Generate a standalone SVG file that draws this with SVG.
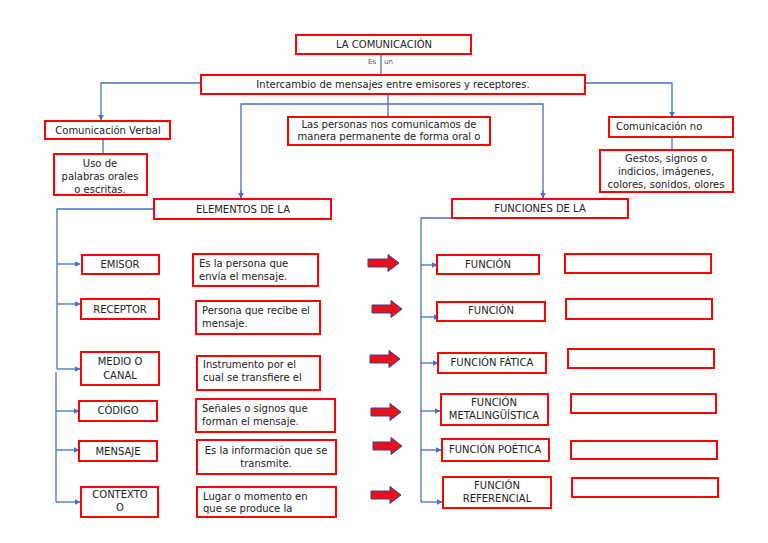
<svg xmlns="http://www.w3.org/2000/svg" width="768" height="543" viewBox="0 0 768 543">
<defs>
<marker id="ah" viewBox="0 0 10 10" refX="9" refY="5" markerWidth="6" markerHeight="6" markerUnits="userSpaceOnUse" orient="auto">
<path d="M0,0 L10,5 L0,10 z" fill="#4472c4"/>
</marker>
<style>
.b{fill:#fff;stroke:#ff0000;stroke-width:2}
.t{font-family:"DejaVu Sans",Verdana,sans-serif;font-size:10px;fill:#222}
.c{text-anchor:middle}
.s{font-family:"DejaVu Sans",sans-serif;font-size:7px;fill:#555}
.l{fill:none;stroke:#4472c4;stroke-width:1.3}
.ra{fill:#e8121a;stroke:#3a3f8a;stroke-width:1}
</style>
</defs>
<rect width="768" height="543" fill="#fff"/>

<g id="connectors">
<line class="l" x1="381" y1="55" x2="381" y2="74"/>
<polyline class="l" points="201,83 101,83 101,120" marker-end="url(#ah)"/>
<polyline class="l" points="585,83 672,83 672,117" marker-end="url(#ah)"/>
<line class="l" x1="103" y1="139" x2="103" y2="154"/>
<line class="l" x1="672" y1="137" x2="672" y2="150"/>
<line class="l" x1="388" y1="94" x2="388" y2="117"/>
<polyline class="l" points="241,198 241,104 543,104 543,198"/>
<line class="l" x1="241" y1="190" x2="241" y2="198" marker-end="url(#ah)"/>
<line class="l" x1="543" y1="190" x2="543" y2="198" marker-end="url(#ah)"/>
<polyline class="l" points="154,209 57,209 57,369"/>
<line class="l" x1="56" y1="372" x2="56" y2="502"/>
<line class="l" x1="57" y1="264" x2="80" y2="264" marker-end="url(#ah)"/>
<line class="l" x1="57" y1="304" x2="80" y2="304" marker-end="url(#ah)"/>
<line class="l" x1="57" y1="369" x2="80" y2="369" marker-end="url(#ah)"/>
<line class="l" x1="56" y1="411" x2="79" y2="411" marker-end="url(#ah)"/>
<line class="l" x1="56" y1="450" x2="79" y2="450" marker-end="url(#ah)"/>
<line class="l" x1="56" y1="502" x2="80" y2="502" marker-end="url(#ah)"/>
<polyline class="l" points="527,218 421,218 421,502"/>
<line class="l" x1="421" y1="265" x2="437" y2="265" marker-end="url(#ah)"/>
<line class="l" x1="421" y1="317" x2="439" y2="317" marker-end="url(#ah)"/>
<line class="l" x1="421" y1="363" x2="438" y2="363" marker-end="url(#ah)"/>
<line class="l" x1="421" y1="411" x2="440" y2="411" marker-end="url(#ah)"/>
<line class="l" x1="421" y1="450" x2="441" y2="450" marker-end="url(#ah)"/>
<line class="l" x1="421" y1="502" x2="442" y2="502" marker-end="url(#ah)"/>
</g>

<g id="labels">
<text class="s" x="368" y="64">Es</text>
<text class="s" x="384" y="64">un</text>
</g>

<g id="n-comunicacion"><rect class="b" x="296" y="35" width="175" height="19"/><text class="t c" x="384" y="48">LA COMUNICACIÓN</text></g>
<g id="n-intercambio"><rect class="b" x="201" y="75" width="384" height="19"/><text class="t c" x="393" y="88">Intercambio de mensajes entre emisores y receptores.</text></g>
<g id="n-verbal"><rect class="b" x="45" y="121" width="125" height="18"/><text class="t c" x="108" y="134">Comunicación Verbal</text></g>
<g id="n-uso"><rect class="b" x="54" y="154" width="93" height="41"/><text class="t c" x="100" y="167">Uso de</text><text class="t c" x="100" y="180">palabras orales</text><text class="t c" x="100" y="193">o escritas.</text></g>
<g id="n-personas"><rect class="b" x="288" y="117" width="202" height="28"/><text class="t c" x="389" y="128">Las personas nos comunicamos de</text><text class="t c" x="389" y="140">manera permanente de forma oral o</text></g>
<g id="n-noverbal"><rect class="b" x="609" y="117" width="124" height="20"/><text class="t" x="616" y="130">Comunicación no</text></g>
<g id="n-gestos"><rect class="b" x="600" y="150" width="133" height="42"/><text class="t c" x="666" y="162">Gestos, signos o</text><text class="t c" x="666" y="175">indicios, imágenes,</text><text class="t c" x="666" y="188">colores, sonidos, olores</text></g>

<g id="n-elementos"><rect class="b" x="154" y="199" width="177" height="20"/><text class="t c" x="243" y="213">ELEMENTOS DE LA</text></g>
<g id="n-funciones"><rect class="b" x="452" y="199" width="176" height="19"/><text class="t c" x="540" y="212">FUNCIONES DE LA</text></g>

<g id="n-emisor"><rect class="b" x="82" y="255" width="77" height="19"/><text class="t c" x="120" y="268">EMISOR</text></g>
<g id="n-receptor"><rect class="b" x="81" y="299" width="78" height="20"/><text class="t c" x="120" y="313">RECEPTOR</text></g>
<g id="n-medio"><rect class="b" x="81" y="352" width="78" height="33"/><text class="t c" x="120" y="365">MEDIO O</text><text class="t c" x="120" y="379">CANAL</text></g>
<g id="n-codigo"><rect class="b" x="79" y="401" width="78" height="20"/><text class="t c" x="118" y="414">CÓDIGO</text></g>
<g id="n-mensaje"><rect class="b" x="79" y="441" width="78" height="20"/><text class="t c" x="118" y="455">MENSAJE</text></g>
<g id="n-contexto"><rect class="b" x="81" y="487" width="77" height="30"/><text class="t c" x="120" y="498">CONTEXTO</text><text class="t c" x="120" y="511">O</text></g>

<g id="d-emisor"><rect class="b" x="193" y="254" width="125" height="32"/><text class="t" x="199" y="267">Es la persona que</text><text class="t" x="199" y="280">envía el mensaje.</text></g>
<g id="d-receptor"><rect class="b" x="196" y="301" width="124" height="33"/><text class="t" x="202" y="314">Persona que recibe el</text><text class="t" x="202" y="327">mensaje.</text></g>
<g id="d-medio"><rect class="b" x="197" y="356" width="123" height="34"/><text class="t" x="203" y="368">Instrumento por el</text><text class="t" x="203" y="381">cual se transfiere el</text></g>
<g id="d-codigo"><rect class="b" x="196" y="399" width="139" height="33"/><text class="t" x="202" y="412">Señales o signos que</text><text class="t" x="202" y="425">forman el mensaje.</text></g>
<g id="d-mensaje"><rect class="b" x="197" y="440" width="139" height="34"/><text class="t c" x="266" y="454">Es la información que se</text><text class="t c" x="266" y="467">transmite.</text></g>
<g id="d-contexto"><rect class="b" x="197" y="487" width="139" height="30"/><text class="t" x="203" y="500">Lugar o momento en</text><text class="t" x="203" y="512">que se produce la</text></g>

<g id="red-arrows">
<path class="ra" d="M368,259 h20 v-4.5 l11,8.5 l-11,8.5 v-4.5 h-20 z"/>
<path class="ra" d="M372,305 h19 v-4.5 l11,8.5 l-11,8.5 v-4.5 h-19 z"/>
<path class="ra" d="M370,355 h19 v-4.5 l11,8.5 l-11,8.5 v-4.5 h-19 z"/>
<path class="ra" d="M371,408 h19 v-4.5 l11,8.5 l-11,8.5 v-4.5 h-19 z"/>
<path class="ra" d="M373,442 h18 v-4.5 l11,8.5 l-11,8.5 v-4.5 h-18 z"/>
<path class="ra" d="M371,491 h19 v-4.5 l11,8.5 l-11,8.5 v-4.5 h-19 z"/>
</g>

<g id="f-1"><rect class="b" x="437" y="255" width="102" height="19"/><text class="t c" x="488" y="268">FUNCIÓN</text></g>
<g id="f-2"><rect class="b" x="437" y="302" width="108" height="19"/><text class="t c" x="491" y="314">FUNCIÓN</text></g>
<g id="f-3"><rect class="b" x="438" y="353" width="108" height="20"/><text class="t c" x="492" y="366">FUNCIÓN FÁTICA</text></g>
<g id="f-4"><rect class="b" x="441" y="394" width="107" height="31"/><text class="t c" x="494" y="406">FUNCIÓN</text><text class="t c" x="494" y="419">METALINGÜÍSTICA</text></g>
<g id="f-5"><rect class="b" x="442" y="439" width="107" height="22"/><text class="t c" x="495" y="453">FUNCIÓN POÉTICA</text></g>
<g id="f-6"><rect class="b" x="443" y="477" width="108" height="31"/><text class="t c" x="497" y="489">FUNCIÓN</text><text class="t c" x="497" y="502">REFERENCIAL</text></g>

<g id="e-1"><rect class="b" x="565" y="254" width="146" height="19"/></g>
<g id="e-2"><rect class="b" x="566" y="299" width="146" height="20"/></g>
<g id="e-3"><rect class="b" x="568" y="349" width="146" height="19"/></g>
<g id="e-4"><rect class="b" x="571" y="394" width="145" height="19"/></g>
<g id="e-5"><rect class="b" x="571" y="441" width="146" height="18"/></g>
<g id="e-6"><rect class="b" x="572" y="478" width="146" height="19"/></g>
</svg>
